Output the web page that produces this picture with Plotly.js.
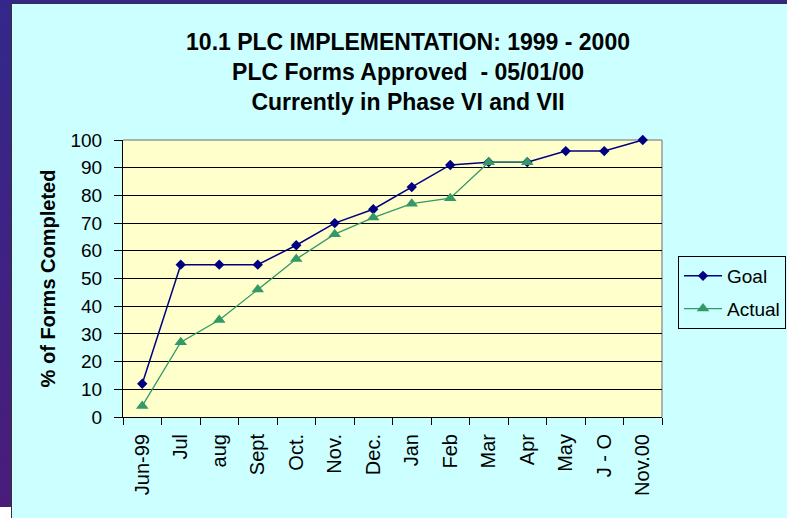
<!DOCTYPE html>
<html>
<head>
<meta charset="utf-8">
<script src="https://cdn.plot.ly/plotly-3.0.1.min.js"></script>
<style>
  html, body { margin: 0; padding: 0; }
  body { width: 787px; height: 518px; overflow: hidden; position: relative;
         background: linear-gradient(#33288a, #4a1c7a); }
  #wb { position: absolute; left: 0; top: 507px; width: 11px; height: 11px; background: #ffffff; }
  #chart { position: absolute; left: 11px; top: 3px; width: 775px; height: 514px;
           border-left: 1px solid #333333; border-top: 1px solid #333333; }
</style>
</head>
<body>
<div id="wb"></div>
<div id="chart"></div>
<script>
const categories = ["Jun-99", "Jul", "aug", "Sept", "Oct.", "Nov.", "Dec.", "Jan", "Feb", "Mar", "Apr", "May", "J - O", "Nov.00"];
const goal = [12, 55, 55, 55, 62, 70, 75, 83, 91, 92, 92, 96, 96, 100];
const actual = [4, 27, 35, 46, 57, 66, 72, 77, 79, 92, 92];
const yTicks = [0, 10, 20, 30, 40, 50, 60, 70, 80, 90, 100];

const FONT = "Liberation Sans, Arial, sans-serif";

const traces = [
  {
    type: "scatter", mode: "lines+markers", name: "Goal", legendgroup: "g1",
    x: categories, y: goal,
    line: { color: "#000080", width: 1.5 },
    marker: { symbol: "diamond", size: 8, color: "#000080" },
    cliponaxis: false
  },
  {
    type: "scatter", mode: "lines+markers", name: "Actual", legendgroup: "g2",
    x: categories.slice(0, actual.length), y: actual,
    line: { color: "#339966", width: 1.3 },
    marker: { symbol: "triangle-up", size: 11, color: "#339966" },
    cliponaxis: false
  }
];

const layout = {
  width: 775, height: 514,
  margin: { l: 111, r: 125, t: 136, b: 101, autoexpand: false },
  paper_bgcolor: "#ccffff",
  plot_bgcolor: "#ffffcc",
  font: { family: FONT, color: "#000000" },
  title: {
    text: "10.1 PLC IMPLEMENTATION: 1999 - 2000<br>PLC Forms Approved  - 05/01/00<br>Currently in Phase VI and VII",
    font: { family: FONT, size: 23, weight: "bold", color: "#000000" },
    x: 0.511, xref: "container", xanchor: "center",
    y: 0.91, yref: "container", yanchor: "top"
  },
  showlegend: true,
  legend: {
    x: 1.0297, xanchor: "left", y: 0.5812, yanchor: "top",
    bgcolor: "#ccffff", bordercolor: "#000000", borderwidth: 1,
    itemwidth: 38, tracegroupgap: 5,
    font: { family: FONT, size: 19, color: "#000000" }
  },
  xaxis: {
    type: "category",
    categoryorder: "array", categoryarray: categories,
    range: [-0.5, categories.length - 0.5],
    showline: true, linecolor: "#000000", linewidth: 1,
    showgrid: false, zeroline: false,
    ticks: "outside", tickson: "boundaries", ticklen: 7, tickcolor: "#000000", tickwidth: 1,
    tickangle: -90, ticklabelstandoff: 8,
    tickfont: { family: FONT, size: 20, color: "#000000" }
  },
  yaxis: {
    range: [0, 100],
    tickvals: yTicks, ticktext: yTicks.map(String),
    showline: true, linecolor: "#000000", linewidth: 1,
    showgrid: true, gridcolor: "#000000", gridwidth: 1,
    zeroline: false,
    ticks: "outside", ticklen: 8, tickcolor: "#000000", tickwidth: 1,
    ticklabelstandoff: 8,
    tickfont: { family: FONT, size: 19, color: "#000000" },
    title: { text: "% of Forms Completed", standoff: 9,
             font: { family: FONT, size: 20, weight: "bold", color: "#000000" } }
  },
  shapes: [
    { type: "line", xref: "paper", yref: "paper", x0: 0, x1: 1, y0: 1, y1: 1,
      line: { color: "#999999", width: 1.5 }, layer: "below" },
    { type: "line", xref: "paper", yref: "paper", x0: 1, x1: 1, y0: 0, y1: 1,
      line: { color: "#999999", width: 1.5 }, layer: "below" }
  ]
};

Plotly.newPlot("chart", traces, layout, { displayModeBar: false, staticPlot: true });
</script>
</body>
</html>
